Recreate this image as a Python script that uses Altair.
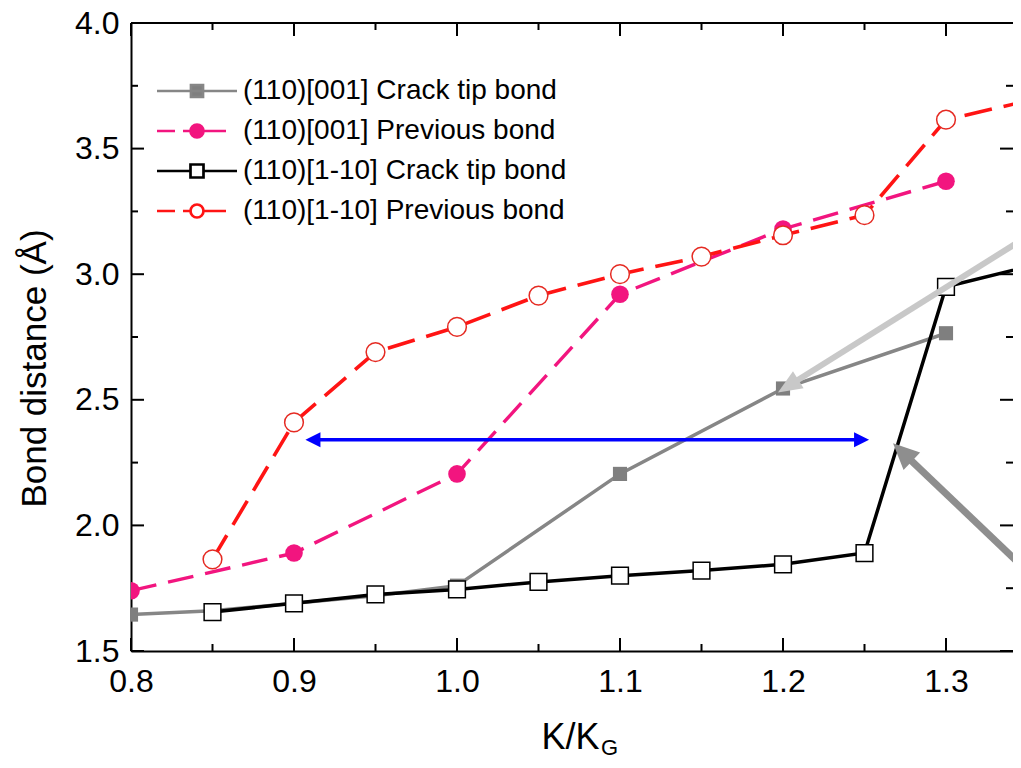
import math
import altair as alt
import pandas as pd

FONT = "Liberation Sans"

# ---------------- data ----------------
series_names = [
    "(110)[001] Crack tip bond",
    "(110)[001] Previous bond",
    "(110)[1-10] Crack tip bond",
    "(110)[1-10] Previous bond",
]

k_gray = [0.80, 0.85, 0.90, 0.95, 1.00, 1.10, 1.20, 1.30]
d_gray = [1.645, 1.66, 1.69, 1.72, 1.76, 2.205, 2.545, 2.765]

k_mag = [0.80, 0.90, 1.00, 1.10, 1.20, 1.30]
d_mag = [1.74, 1.89, 2.205, 2.92, 3.18, 3.37]

k_black = [0.85, 0.90, 0.95, 1.00, 1.05, 1.10, 1.15, 1.20, 1.25, 1.30, 1.35]
d_black = [1.655, 1.69, 1.725, 1.745, 1.775, 1.80, 1.82, 1.845, 1.89, 2.95, 3.03]

k_red = [0.85, 0.90, 0.95, 1.00, 1.05, 1.10, 1.15, 1.20, 1.25, 1.30, 1.35]
d_red = [1.865, 2.41, 2.69, 2.79, 2.915, 3.00, 3.07, 3.155, 3.235, 3.615, 3.69]

x_major = [0.8, 0.9, 1.0, 1.1, 1.2, 1.3]
x_minor = [0.85, 0.95, 1.05, 1.15, 1.25]
y_major = [1.5, 2.0, 2.5, 3.0, 3.5, 4.0]
y_minor = [1.75, 2.25, 2.75, 3.25, 3.75]

# annotation arrows: (tail k, tail d) -> (tip k, tip d)
blue_tips_k = [0.907, 1.2528]
blue_tips_d = [2.341, 2.341]
light_tail = [1.40, 3.354]
light_tip = [1.1969, 2.529]
dark_tail = [1.40, 1.508]
dark_tip = [1.2675, 2.327]

# ---------------- layout ----------------
W, H = 882, 628
XMIN, XMAX = 0.8, 0.8 + W / 1630.0
YMIN, YMAX = 1.5, 4.0
PX_X = W / (XMAX - XMIN)
PX_Y = H / (YMAX - YMIN)

col_gray = "#868686"
col_mag = "#f2157f"
col_black = "#000000"
col_red = "#ff1414"

x_scale = alt.Scale(domain=[XMIN, XMAX], nice=False, zero=False)
y_scale = alt.Scale(domain=[YMIN, YMAX], nice=False, zero=False)

x_enc = alt.X(
    "k:Q", scale=x_scale,
    axis=alt.Axis(values=x_major, format=".1f", ticks=False, grid=False,
                  domain=True, domainColor="black", domainWidth=2,
                  labelFlush=False, labelFont=FONT, labelFontSize=32,
                  labelColor="black", labelPadding=15,
                  title="K/K", titleFont=FONT, titleFontSize=36,
                  titleFontWeight="normal", titleColor="black",
                  titleX=439, titleY=97, titleBaseline="alphabetic",
                  titleAlign="center"))
y_enc = alt.Y(
    "d:Q", scale=y_scale,
    axis=alt.Axis(values=y_major, format=".1f", ticks=False, grid=False,
                  domain=True, domainColor="black", domainWidth=2,
                  labelFont=FONT, labelFontSize=32, labelColor="black",
                  labelPadding=12,
                  title="Bond distance (Å)", titleFont=FONT, titleFontSize=35,
                  titleFontWeight="normal", titleColor="black",
                  titleX=-86, titleY=345, titleBaseline="alphabetic",
                  titleAlign="center", titleAngle=270))


def df_xy(ks, ds):
    return pd.DataFrame({"k": ks, "d": ds})


layers = []

# ---- inward ticks (frame) ----
xmaj = pd.DataFrame({"k": x_major})
xmin_ = pd.DataFrame({"k": x_minor})
ymaj = pd.DataFrame({"d": y_major})
ymin_ = pd.DataFrame({"d": y_minor})
tick_style = dict(color="black", strokeWidth=2)
layers += [
    alt.Chart(xmaj).mark_rule(**tick_style).encode(x=x_enc, y=alt.value(H), y2=alt.value(H - 13)),
    alt.Chart(xmin_).mark_rule(**tick_style).encode(x=x_enc, y=alt.value(H), y2=alt.value(H - 7)),
    alt.Chart(xmaj).mark_rule(**tick_style).encode(x=x_enc, y=alt.value(0), y2=alt.value(13)),
    alt.Chart(xmin_).mark_rule(**tick_style).encode(x=x_enc, y=alt.value(0), y2=alt.value(7)),
    alt.Chart(ymaj).mark_rule(**tick_style).encode(y=y_enc, x=alt.value(0), x2=alt.value(13)),
    alt.Chart(ymin_).mark_rule(**tick_style).encode(y=y_enc, x=alt.value(0), x2=alt.value(7)),
    alt.Chart(ymaj).mark_rule(**tick_style).encode(y=y_enc, x=alt.value(W), x2=alt.value(W - 13)),
    alt.Chart(ymin_).mark_rule(**tick_style).encode(y=y_enc, x=alt.value(W), x2=alt.value(W - 7)),
    # top frame line
    alt.Chart(ymaj.head(1)).mark_rule(color="black", strokeWidth=2).encode(
        y=alt.value(0), x=alt.value(0), x2=alt.value(W)),
]

# ---- series ----
gray = df_xy(k_gray, d_gray)
mag = df_xy(k_mag, d_mag)
blk = df_xy(k_black, d_black)
red = df_xy(k_red, d_red)

layers += [
    alt.Chart(gray).mark_line(color=col_gray, strokeWidth=3.5, clip=True).encode(x=x_enc, y=y_enc),
    alt.Chart(gray).mark_point(shape="square", filled=True, color="#7f7f7f", size=200,
                               opacity=1, clip=True).encode(x=x_enc, y=y_enc),
    alt.Chart(mag).mark_line(color=col_mag, strokeWidth=3.4, strokeDash=[26, 12],
                             clip=True).encode(x=x_enc, y=y_enc),
    alt.Chart(mag).mark_point(shape="circle", filled=True, color=col_mag, size=310,
                              opacity=1, clip=True).encode(x=x_enc, y=y_enc),
    alt.Chart(blk).mark_line(color=col_black, strokeWidth=3.5, clip=True).encode(x=x_enc, y=y_enc),
    alt.Chart(blk).mark_point(shape="square", filled=True, fill="white", stroke="black",
                              strokeWidth=1.5, size=280, opacity=1, clip=True).encode(x=x_enc, y=y_enc),
    alt.Chart(red).mark_line(color=col_red, strokeWidth=3.6, strokeDash=[28, 12],
                             clip=True).encode(x=x_enc, y=y_enc),
    alt.Chart(red).mark_point(shape="circle", filled=True, fill="white", stroke="#e52a22",
                              strokeWidth=1.5, size=350, opacity=1, clip=True).encode(x=x_enc, y=y_enc),
]


# ---- arrows ----
def head_path(length, width):
    a = width / (2.0 * length)
    return f"M0,0L{-a:.4f},1L{a:.4f},1Z", (2.0 * length) ** 2


def arrow_layers(tail, tip, color, lw, hl, hw):
    dx = (tip[0] - tail[0]) * PX_X
    dy = -(tip[1] - tail[1]) * PX_Y
    n = math.hypot(dx, dy)
    ux, uy = dx / n, dy / n
    base = [tip[0] - hl * 0.8 * ux / PX_X, tip[1] + hl * 0.8 * uy / PX_Y]
    ang = math.degrees(math.atan2(ux, -uy)) % 360
    path, size = head_path(hl, hw)
    seg = pd.DataFrame({"k": [tail[0]], "d": [tail[1]], "k2": [base[0]], "d2": [base[1]]})
    hd = pd.DataFrame({"k": [tip[0]], "d": [tip[1]], "ang": [ang]})
    return [
        alt.Chart(seg).mark_rule(color=color, strokeWidth=lw, clip=True).encode(
            x=x_enc, y=y_enc, x2="k2:Q", y2="d2:Q"),
        alt.Chart(hd).mark_point(shape=path, size=size, filled=True, color=color,
                                 opacity=1, strokeWidth=0, clip=True).encode(
            x=x_enc, y=y_enc, angle=alt.Angle("ang:Q", scale=None)),
    ]


# double-headed blue arrow
blue_col = "#0000ff"
bl_path, bl_size = head_path(15, 15)
b_seg = pd.DataFrame({"k": [blue_tips_k[0] + 12 / PX_X], "d": [blue_tips_d[0]],
                      "k2": [blue_tips_k[1] - 12 / PX_X], "d2": [blue_tips_d[1]]})
b_heads = pd.DataFrame({"k": blue_tips_k, "d": blue_tips_d, "ang": [270, 90]})
layers += [
    alt.Chart(b_seg).mark_rule(color=blue_col, strokeWidth=3.5).encode(
        x=x_enc, y=y_enc, x2="k2:Q", y2="d2:Q"),
    alt.Chart(b_heads).mark_point(shape=bl_path, size=bl_size, filled=True, color=blue_col,
                                  opacity=1, strokeWidth=0).encode(
        x=x_enc, y=y_enc, angle=alt.Angle("ang:Q", scale=None)),
]
layers += arrow_layers(light_tail, light_tip, "#c8c8c8", 6, 24, 20)
layers += arrow_layers(dark_tail, dark_tip, "#8e8e8e", 7, 26, 24)

# ---- legend (line + marker symbols) ----
legend_paths = [
    "M-4,0H4M-0.6,-0.6H0.6V0.6H-0.6Z",
    "M-4,0H-2.2M-1.4,0H2.9M-0.65,0A0.65,0.65,0,1,1,0.65,0A0.65,0.65,0,1,1,-0.65,0Z",
    "M-4,0H-0.65M0.65,0H4M-0.65,-0.65H0.65V0.65H-0.65Z",
    "M-4,0H-2.2M-1.4,0H-0.65M0.65,0H2.9M-0.65,0A0.65,0.65,0,1,1,0.65,0A0.65,0.65,0,1,1,-0.65,0Z",
]
legend_fill = ["#7f7f7f", col_mag, "white", "white"]
legend_stroke = [col_gray, col_mag, col_black, col_red]

leg = alt.Legend(title=None, orient="none", legendX=22, legendY=54, padding=0,
                 labelFont=FONT, labelFontSize=28, labelColor="black", labelLimit=0,
                 symbolSize=400, symbolStrokeWidth=2.7, symbolOffset=30,
                 labelOffset=32, rowPadding=12)
leg_df = pd.DataFrame({"series": series_names})
layers.append(
    alt.Chart(leg_df).mark_point(filled=True, size=400, strokeWidth=2.7, opacity=1)
    .encode(
        shape=alt.Shape("series:N", scale=alt.Scale(domain=series_names, range=legend_paths), legend=leg),
        fill=alt.Fill("series:N", scale=alt.Scale(domain=series_names, range=legend_fill), legend=leg),
        stroke=alt.Stroke("series:N", scale=alt.Scale(domain=series_names, range=legend_stroke), legend=leg),
    )
    .transform_filter("false")
)

# subscript G of K/K_G
layers.append(
    alt.Chart(pd.DataFrame({"t": ["G"]})).mark_text(
        font=FONT, fontSize=22, color="black", align="left", baseline="alphabetic"
    ).encode(x=alt.value(470), y=alt.value(732), text="t:N")
)

chart = (
    alt.layer(*layers)
    .properties(width=W, height=H, autosize=alt.AutoSizeParams(type="none"),
                padding={"left": 123, "top": 15, "right": 0, "bottom": 108},
                background="white")
    .configure_view(stroke=None)
)

chart.save("out.html", embed_options={"renderer": "svg", "actions": False})
